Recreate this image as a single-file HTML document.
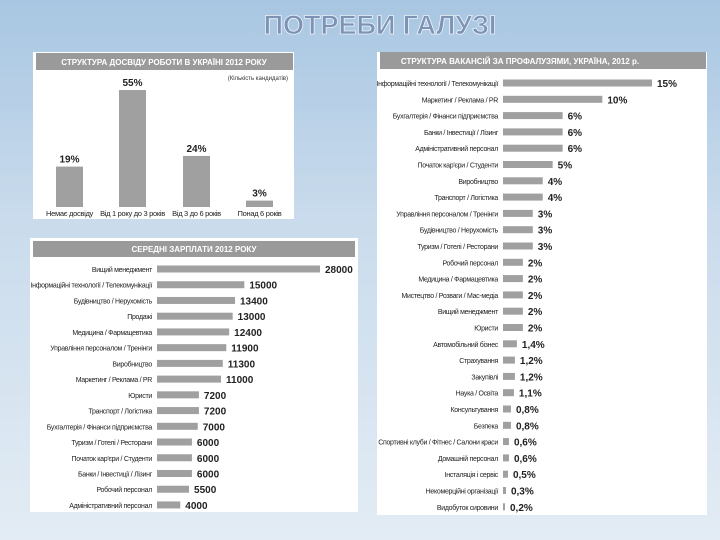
<!DOCTYPE html>
<html><head><meta charset="utf-8">
<style>
html,body{margin:0;padding:0;}
body{width:720px;height:540px;overflow:hidden;background:linear-gradient(180deg,#a8c6e2 0%,#c9dbec 40%,#e3ecf4 100%);font-family:"Liberation Sans",sans-serif;}
svg{position:absolute;left:0;top:0;}
text{font-family:"Liberation Sans",sans-serif;}
</style></head><body>
<svg id="s" width="720" height="540">
<text x="380" y="34" text-anchor="middle" font-size="27" font-weight="bold" fill="#7d93b5" stroke="#eef3f9" stroke-width="0.8">ПОТРЕБИ ГАЛУЗІ</text>
<rect x="33" y="52" width="261" height="167" fill="#fff"/>
<rect x="36" y="53" width="257" height="17" fill="#9a9a9a"/>
<text x="164" y="65" text-anchor="middle" font-size="8" font-weight="bold" fill="#fff">СТРУКТУРА ДОСВІДУ РОБОТИ В УКРАЇНІ 2012 РОКУ</text>
<text x="288" y="80" text-anchor="end" font-size="6" fill="#333">(Кількість кандидатів)</text>
<rect x="30" y="238" width="328" height="274" fill="#fff"/>
<rect x="33" y="241" width="322" height="16" fill="#9a9a9a"/>
<text x="194" y="252" text-anchor="middle" font-size="8" font-weight="bold" fill="#fff">СЕРЕДНІ ЗАРПЛАТИ 2012 РОКУ</text>
<rect x="377" y="52" width="330" height="463" fill="#fff"/>
<rect x="380" y="52" width="326" height="17" fill="#9a9a9a"/>
<text x="520" y="64" text-anchor="middle" font-size="8" font-weight="bold" fill="#fff">СТРУКТУРА ВАКАНСІЙ ЗА ПРОФАЛУЗЯМИ, УКРАЇНА, 2012 р.</text>
</svg>
<script>
const expCats=["Немає досвіду","Від 1 року до 3 років","Від 3 до 6 років","Понад 6 років"];
const expVals=[19,55,24,3];
const salCats=["Вищий менеджмент","Інформаційні технології / Телекомунікації","Будівництво / Нерухомість","Продажі","Медицина / Фармацевтика","Управління персоналом / Тренінги","Виробництво","Маркетинг / Реклама / PR","Юристи","Транспорт / Логістика","Бухгалтерія / Фінанси підприємства","Туризм / Готелі / Ресторани","Початок кар'єри / Студенти","Банки / Інвестиції / Лізинг","Робочий персонал","Адміністративний персонал"];
const salVals=[28000,15000,13400,13000,12400,11900,11300,11000,7200,7200,7000,6000,6000,6000,5500,4000];
const vacCats=["Інформаційні технології / Телекомунікації","Маркетинг / Реклама / PR","Бухгалтерія / Фінанси підприємства","Банки / Інвестиції / Лізинг","Адміністративний персонал","Початок кар'єри / Студенти","Виробництво","Транспорт / Логістика","Управління персоналом / Тренінги","Будівництво / Нерухомість","Туризм / Готелі / Ресторани","Робочий персонал","Медицина / Фармацевтика","Мистецтво / Розваги / Мас-медіа","Вищий менеджмент","Юристи","Автомобільний бізнес","Страхування","Закупівлі","Наука / Освіта","Консультування","Безпека","Спортивні клуби / Фітнес / Салони краси","Домашній персонал","Інсталяція і сервіс","Некомерційні організації","Видобуток сировини"];
const vacVals=[15,10,6,6,6,5,4,4,3,3,3,2,2,2,2,2,1.4,1.2,1.2,1.1,0.8,0.8,0.6,0.6,0.5,0.3,0.2];
const vacLabels=["15%","10%","6%","6%","6%","5%","4%","4%","3%","3%","3%","2%","2%","2%","2%","2%","1,4%","1,2%","1,2%","1,1%","0,8%","0,8%","0,6%","0,6%","0,5%","0,3%","0,2%"];

const svg=document.getElementById('s');
const NS="http://www.w3.org/2000/svg";
function mk(tag,attrs,txt){const e=document.createElementNS(NS,tag);for(const k in attrs)e.setAttribute(k,attrs[k]);if(txt!==undefined)e.textContent=txt;svg.appendChild(e);return e;}

// experience chart
const eBase=207, eScale=117/55;
function ey(v){return eBase-v*eScale;}
const eX=[56,119,183,246];
expVals.forEach((v,i)=>{
  const r=mk('rect',{x:eX[i],y:ey(v),width:27,height:eBase-ey(v),fill:'#a0a0a0'});
  
  
  const t=mk('text',{x:eX[i]+13.5,y:ey(v)-4,'text-anchor':'middle','font-size':10,'font-weight':'bold',fill:'#222'},v+'%');
  
  
  const l=mk('text',{x:eX[i]+13.5,y:216,'text-anchor':'middle','font-size':7.5,fill:'#222','letter-spacing':'-0.3'},expCats[i]);
  
  
});

// salary chart
const sX0=157, sScale=163/28000, sY0=269, sStep=15.73;
function sx(v){return sX0+v*sScale;}
salVals.forEach((v,i)=>{
  const y=sY0+i*sStep;
  const r=mk('rect',{x:sX0,y:y-3.5,width:sx(v)-sX0,height:7,fill:'#a0a0a0'});
  
  
  const t=mk('text',{x:sx(v)+5,y:y+4,'font-size':10,'font-weight':'bold',fill:'#222'},String(v));
  
  
  const l=mk('text',{x:152,y:y+3,'text-anchor':'end','font-size':7,fill:'#222','letter-spacing':'-0.3'},salCats[i]);
  
  
});

// vacancy chart
const vX0=503, vScale=149/15, vY0=83, vStep=16.3;
function vx(v){return vX0+v*vScale;}
vacVals.forEach((v,i)=>{
  const y=vY0+i*vStep;
  const r=mk('rect',{x:vX0,y:y-3.5,width:Math.max(1,vx(v)-vX0),height:7,fill:'#a0a0a0'});
  
  
  const t=mk('text',{x:vx(v)+5,y:y+4,'font-size':10,'font-weight':'bold',fill:'#222'},vacLabels[i]);
  
  
  const l=mk('text',{x:498,y:y+3,'text-anchor':'end','font-size':7,fill:'#222','letter-spacing':'-0.3'},vacCats[i]);
  
  
});
</script>
</body></html>
